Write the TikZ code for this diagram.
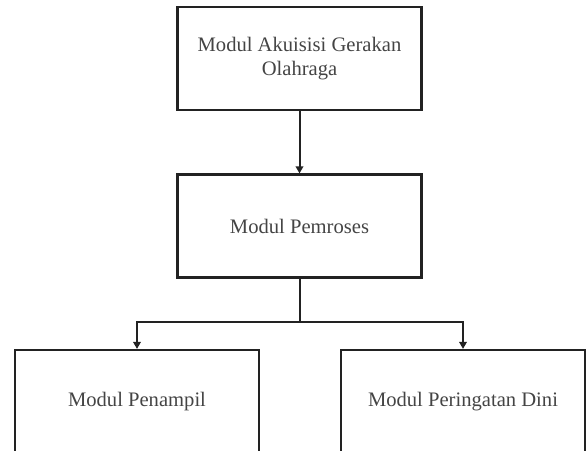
\documentclass[tikz,border=0pt]{standalone}
\usepackage{fontspec}
\setmainfont{Liberation Serif}
\usetikzlibrary{arrows.meta}
\definecolor{linegray}{HTML}{222222}
\definecolor{textgray}{HTML}{444444}
\begin{document}
\begin{tikzpicture}[x=1pt,y=-1pt,
  modbox/.style={draw=linegray, line width=2.2pt, rectangle,
    minimum width=244pt, minimum height=103pt, inner sep=0pt,
    align=center, text=textgray,
    font=\fontsize{20.6}{24}\selectfont},
  link/.style={draw=linegray, line width=2pt},
  flow/.style={link, -{Triangle[width=7.5pt,length=7pt]}}]
  \useasboundingbox (0,0) rectangle (586,450);
  \clip (0,0) rectangle (586,450);

  % module blocks
  \node[modbox] (acq)  at (299.5,58.5) {Modul Akuisisi Gerakan\\Olahraga};
  \node[modbox] (proc) at (299.5,226)  {Modul Pemroses};
  \node[modbox] (disp) at (137,401.5)  {Modul Penampil};
  \node[modbox] (warn) at (463,401.5)  {Modul Peringatan Dini};

  % data flow between modules
  \coordinate (split) at (299.5,322);
  \draw[flow] (acq) -- (proc);
  \draw[link] (proc.south) -- (split);
  \draw[flow] (split) -| (disp.north);
  \draw[flow] (split) -| (warn.north);
\end{tikzpicture}
\end{document}
